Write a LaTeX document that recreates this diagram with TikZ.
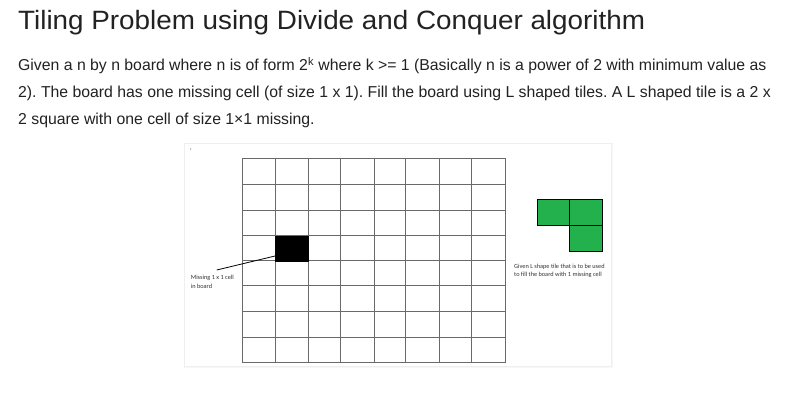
\documentclass[tikz,border=0pt]{standalone}
\usepackage{fontspec}
\setmainfont{Liberation Sans}
\newfontfamily\titlefont[FakeStretch=1.05]{Liberation Sans}
\newfontfamily\smallfont{Carlito}
\frenchspacing
\definecolor{txt}{HTML}{222222}
\definecolor{gridc}{HTML}{6A6A6A}
\definecolor{tilegreen}{HTML}{22B14C}
\definecolor{panelshadow}{HTML}{EFEFEF}
\tikzset{
  title/.style={anchor=base west, inner sep=0pt, text=txt, font=\titlefont\fontsize{26.5}{30}\selectfont},
  body/.style={anchor=base west, inner sep=0pt, text=txt, font=\fontsize{15.8}{18}\selectfont},
  tiny/.style={anchor=base west, inner sep=0pt, text=black!80, font=\smallfont\fontsize{6.3}{7}\selectfont},
  gridline/.style={draw=gridc, line width=0.9pt},
  tilecell/.style={draw=black, fill=tilegreen, line width=0.7pt},
  leader/.style={draw=black, line width=0.8pt}
}
\begin{document}
\begin{tikzpicture}[x=1pt,y=-1pt]
\useasboundingbox[fill=white] (0,0) rectangle (798,405);
% texts
\node[title] (t) at (18,29) {Tiling Problem using Divide and Conquer algorithm};
\node[body] (l1) at (18,70.5) {Given a n by n board where n is of form 2\textsuperscript{k} where k >= 1 (Basically n is a power of 2 with minimum value as};
\node[body] (l2) at (18,97.2) {2). The board has one missing cell (of size 1 x 1). Fill the board using L shaped tiles. A L shaped tile is a 2 x};
\node[body] (l3) at (18,124) {2 square with one cell of size 1×1 missing.};
% panel with faint shadow
\draw[panelshadow, line width=3pt] (185.5,144.5) rectangle (611,366);
\draw[black!3, line width=1pt] (185,144) rectangle (612.5,367.5);
\fill[white] (185,144) rectangle (611,366);
\fill[black!55] (190.7,149) circle (0.6);
% board
\foreach \x in {242.7,275,308.3,340.7,374,405.7,439.3,471,505}
  \draw[gridline] (\x,158.3) -- (\x,362.7);
\foreach \y in {158.3,184,210,235.7,260.7,285.7,311.7,337.3,362.7}
  \draw[gridline] (242.7,\y) -- (505,\y);
\node[draw=black, fill=black, minimum width=33.3pt, minimum height=25pt, inner sep=0pt, anchor=north west] (miss) at (275,235.7) {};
% leader
\coordinate (lead) at (216.7,270);
\draw[leader] (lead) -- (miss.south west |- 0,256);
\node[tiny] (m1) at (190.7,279) {Missing 1 x 1 cell};
\node[tiny] (m2) at (190.7,288) {in board};
% L tile
\node[tilecell, minimum width=32.5pt, minimum height=26pt, inner sep=0pt, anchor=north west] (ta) at (536.7,199) {};
\node[tilecell, minimum width=33.3pt, minimum height=26pt, inner sep=0pt, anchor=north west] (tb) at (569,199) {};
\node[tilecell, minimum width=33.3pt, minimum height=26pt, inner sep=0pt, anchor=north west] (tc) at (569,225) {};
\node[tiny] (g1) at (514,268) {Given L shape tile that is to be used};
\node[tiny] (g2) at (514,276.5) {to fill the board with 1 missing cell};
\end{tikzpicture}
\end{document}
